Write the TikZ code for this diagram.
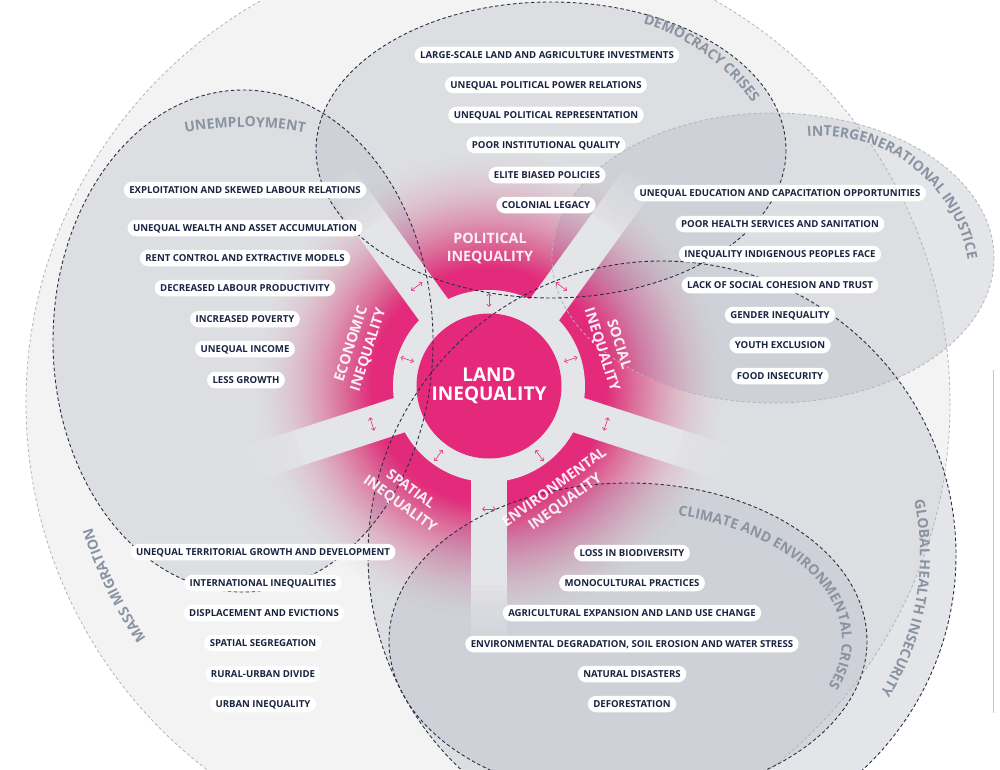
\documentclass[tikz,border=0pt]{standalone}
\usepackage{fontspec}
\setmainfont{Open Sans}
\usetikzlibrary{calc,arrows.meta,decorations.text}
\definecolor{pinkc}{RGB}{228,40,122}
\definecolor{navy}{RGB}{27,35,64}
\definecolor{mmfill}{RGB}{243,243,244}
\definecolor{ovl}{RGB}{186,191,200}
\definecolor{ringc}{RGB}{227,229,232}
\definecolor{dashdark}{RGB}{42,48,66}
\definecolor{dashlight}{RGB}{176,181,189}
\definecolor{labgray}{RGB}{138,147,162}
\definecolor{arrowpink}{RGB}{228,66,132}
\newcommand\pillfont{\fontsize{9.6}{11}\selectfont\bfseries}
\newcommand\clabfont{\fontsize{14}{16}\selectfont\bfseries}
\begin{document}
\begin{tikzpicture}[x=1pt,y=-1pt,
  pill/.style={fill=white, rounded corners=8.25pt, minimum height=16.5pt, inner xsep=5.5pt, inner ysep=0pt, text height=6.9pt, text depth=0pt, text=navy, font=\pillfont},
  seclab/.style={align=center, text=white, text opacity=0.9, font=\fontsize{14.3}{18}\selectfont\bfseries, inner sep=0pt},
  ovlfill/.style={fill=ovl, fill opacity=0.4},
  ddark/.style={draw=dashdark, line width=0.9pt, dash pattern=on 3.5pt off 2.5pt},
  dlight/.style={draw=dashlight, line width=0.8pt, dash pattern=on 3pt off 2.5pt},
  spoke/.style={draw=ringc, line width=36pt},
  darr/.style={draw=arrowpink, line width=0.7pt, {Straight Barb[length=2.4pt,width=4.6pt]}-{Straight Barb[length=2.4pt,width=4.6pt]}},
  clab/.style={decorate, decoration={text along path, text color=labgray, text align=center}},
]
\useasboundingbox (0,0) rectangle (1000,770);
\clip (0,0) rectangle (1000,770);
\fill[white] (0,0) rectangle (1000,770);
\coordinate (cen) at (489,386);

% background sets
\fill[mmfill] (488,403) circle[radius=462];
\fill[ovlfill] (243,341) ellipse[x radius=190, y radius=251];
\fill[ovlfill] (551,150) ellipse[x radius=235, y radius=148];
\fill[ovlfill] (773,258) ellipse[x radius=221, y radius=145];
\fill[ovlfill] (662,555) circle[radius=294];
\fill[ovlfill] (628,641) ellipse[x radius=239, y radius=158];

% pink radial glow: full pink up to r=115, fading to nothing at r=240
\foreach \k in {0,...,49}{
  \pgfmathsetmacro\R{240-2.5*\k}
  \pgfmathsetmacro\go{min(0.995,(max(0.0001,(240-(\R+1.25))/125))^2)}
  \pgfmathsetmacro\gi{min(0.995,(max(0.0001,(240-(\R-1.25))/125))^2)}
  \pgfmathsetmacro\al{1-(1-\gi)/(1-\go)}
  \fill[pinkc, fill opacity=\al] (cen) circle[radius=\R];
}

% spokes
\foreach \a in {18,90,162,234,306}{
  \draw[spoke] (cen) -- ($(cen)+(\a:200)$);
  \foreach \i in {1,...,12}{
    \draw[spoke, draw opacity={1-\i/13}] ($(cen)+(\a:195+5*\i)$) -- ($(cen)+(\a:200+5*\i)$);
  }
}
\fill[ringc] (cen) circle[radius=96];
\node[circle, fill=pinkc, minimum size=145pt, inner sep=0pt, text=white, align=center, font=\fontsize{19}{18.5}\selectfont\bfseries] (land) at (cen) {LAND\\INEQUALITY};

% dashed borders
\draw[dlight] (488,403) circle[radius=462];
\draw[dlight] (773,258) ellipse[x radius=221, y radius=145];
\draw[ddark] (243,341) ellipse[x radius=190, y radius=251];
\draw[ddark] (551,150) ellipse[x radius=235, y radius=148];
\draw[ddark] (662,555) circle[radius=294];
\draw[ddark] (628,641) ellipse[x radius=239, y radius=158];
\draw[draw=black!22, line width=0.8pt] (993,370) -- (993,713);

% arrows
\foreach \a in {54,126,198,270,342}{
  \draw[darr] ($(cen)+(\a:79)$) -- ($(cen)+(\a:93)$);
}
\foreach \a in {18,90,162,234,306}{
  \draw[darr] ($(cen)+(\a:123)+(\a+90:7)$) -- ($(cen)+(\a:123)+(\a-90:7)$);
}

% sector labels
\node[seclab] (polL) at (490,249) {POLITICAL\\INEQUALITY};
\node[seclab, rotate=72] (ecoL) at (360,347) {ECONOMIC\\INEQUALITY};
\node[seclab, rotate=-72] (socL) at (610,347) {SOCIAL\\INEQUALITY};
\node[seclab, rotate=-36] (spaL) at (405,497) {SPATIAL\\INEQUALITY};
\node[seclab, rotate=36] (envL) at (560,495) {ENVIRONMENTAL\\INEQUALITY};

% political pills
\node[pill] (p1) at (547,55) {LARGE-SCALE LAND AND AGRICULTURE INVESTMENTS};
\node[pill] (p2) at (546,85) {UNEQUAL POLITICAL POWER RELATIONS};
\node[pill] (p3) at (546,115) {UNEQUAL POLITICAL REPRESENTATION};
\node[pill] (p4) at (546,145) {POOR INSTITUTIONAL QUALITY};
\node[pill] (p5) at (547,175) {ELITE BIASED POLICIES};
\node[pill] (p6) at (546,205) {COLONIAL LEGACY};
% economic pills
\node[pill] (e1) at (245,190) {EXPLOITATION AND SKEWED LABOUR RELATIONS};
\node[pill] (e2) at (245,228) {UNEQUAL WEALTH AND ASSET ACCUMULATION};
\node[pill] (e3) at (245,258) {RENT CONTROL AND EXTRACTIVE MODELS};
\node[pill] (e4) at (245,288) {DECREASED LABOUR PRODUCTIVITY};
\node[pill] (e5) at (245,319) {INCREASED POVERTY};
\node[pill] (e6) at (245,349) {UNEQUAL INCOME};
\node[pill] (e7) at (246,380) {LESS GROWTH};
% social pills
\node[pill] (s1) at (780,193) {UNEQUAL EDUCATION AND CAPACITATION OPPORTUNITIES};
\node[pill] (s2) at (780,224) {POOR HEALTH SERVICES AND SANITATION};
\node[pill] (s3) at (780,254) {INEQUALITY INDIGENOUS PEOPLES FACE};
\node[pill] (s4) at (780,285) {LACK OF SOCIAL COHESION AND TRUST};
\node[pill] (s5) at (780,315) {GENDER INEQUALITY};
\node[pill] (s6) at (780,345) {YOUTH EXCLUSION};
\node[pill] (s7) at (780,376) {FOOD INSECURITY};
% spatial pills
\node[pill] (t1) at (263,552) {UNEQUAL TERRITORIAL GROWTH AND DEVELOPMENT};
\node[pill] (t2) at (263,583) {INTERNATIONAL INEQUALITIES};
\node[pill] (t3) at (264,613) {DISPLACEMENT AND EVICTIONS};
\node[pill] (t4) at (263,643) {SPATIAL SEGREGATION};
\node[pill] (t5) at (263,674) {RURAL-URBAN DIVIDE};
\node[pill] (t6) at (263,704) {URBAN INEQUALITY};
% environmental pills
\node[pill] (v1) at (632,553) {LOSS IN BIODIVERSITY};
\node[pill] (v2) at (632,583) {MONOCULTURAL PRACTICES};
\node[pill] (v3) at (632,613) {AGRICULTURAL EXPANSION AND LAND USE CHANGE};
\node[pill] (v4) at (632,644) {ENVIRONMENTAL DEGRADATION, SOIL EROSION AND WATER STRESS};
\node[pill] (v5) at (632,674) {NATURAL DISASTERS};
\node[pill] (v6) at (632,704) {DEFORESTATION};

% curved set labels
\path[clab, decoration={text={|\clabfont|UNEMPLOYMENT}}] ($(245,447)+(250:320)$) arc[start angle=250, end angle=290, radius=320];
\path[clab, decoration={text={|\clabfont|DEMOCRACY CRISES}}] ($(584,220)+(-84:205)$) arc[start angle=-84, end angle=-24, radius=205];
\path[clab, decoration={text={|\clabfont|INTERGENERATIONAL INJUSTICE}}] ($(821,285)+(255:149)$) arc[start angle=255, end angle=360, radius=149];
\path[clab, decoration={text align=left, text={|\clabfont|CLIMATE AND ENVIRONMENTAL CRISES}}] ($(628,641)+(-76.5:214 and 129)$) arc[start angle=-76.5, end angle=60, x radius=214, y radius=129];
\path[clab, decoration={text={|\clabfont|GLOBAL HEALTH INSECURITY}}] ($(662,555)+(-40:258)$) arc[start angle=-40, end angle=60, radius=258];
\path[clab, decoration={text={|\clabfont|MASS MIGRATION}}] ($(488,403)+(130:415)$) arc[start angle=130, end angle=178, radius=415];
\end{tikzpicture}
\end{document}
